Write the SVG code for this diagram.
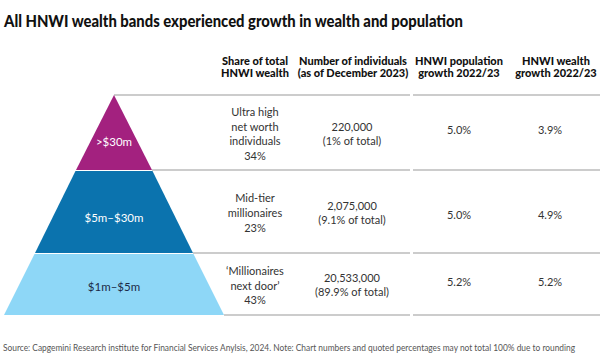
<svg xmlns="http://www.w3.org/2000/svg" width="600" height="364" viewBox="0 0 600 364">
<style>
.title{font-family:Lato,"Liberation Sans",sans-serif;font-weight:900;font-size:17px;fill:#111}
.hd{font-family:Lato,"Liberation Sans",sans-serif;font-weight:900;font-size:11px;fill:#111;text-anchor:middle}
.tx{font-family:Lato,"Liberation Sans",sans-serif;font-size:11px;fill:#333;text-anchor:middle}
.pl{font-family:Lato,"Liberation Sans",sans-serif;font-size:11.5px;text-anchor:middle}
.fn{font-family:Lato,"Liberation Sans",sans-serif;font-size:8.6px;fill:#555}
.rule{stroke:#9a9a9a;stroke-width:1.2;fill:none}
</style>
<rect width="600" height="364" fill="#fff"/>
<text class="title" x="4" y="26.5" textLength="459" lengthAdjust="spacingAndGlyphs">All HNWI wealth bands experienced growth in wealth and population</text>
<g id="header">
<text class="hd" x="255" y="65">Share of total</text>
<text class="hd" x="255" y="77">HNWI wealth</text>
<text class="hd" x="353" y="65">Number of individuals</text>
<text class="hd" x="353" y="77">(as of December 2023)</text>
<text class="hd" x="459" y="65">HNWI population</text>
<text class="hd" x="459" y="77">growth 2022/23</text>
<text class="hd" x="556" y="65">HNWI wealth</text>
<text class="hd" x="556" y="77">growth 2022/23</text>
</g>
<g id="connectors">
<path class="rule" d="M114 95H410M413 95H600M152 170H410M413 170H600M193 253H410M413 253H600M224 315H410M413 315H600"/>
</g>
<g id="band-top">
<polygon points="114,95 152,170 76,170" fill="#A3217F"/>
<text class="pl" x="114" y="146" fill="#fff">&gt;$30m</text>
</g>
<g id="band-mid">
<polygon points="75.5,171 152.5,171 193,253 35,253" fill="#0B73AE"/>
<text class="pl" x="114" y="222" fill="#fff">$5m–$30m</text>
</g>
<g id="band-bottom">
<polygon points="34.5,254 193.5,254 224,315 4,315" fill="#8ED7F7"/>
<text class="pl" x="114" y="291" fill="#1c2b48">$1m–$5m</text>
</g>
<g id="row-1">
<text class="tx" x="255" y="116">Ultra high</text>
<text class="tx" x="255" y="130.5">net worth</text>
<text class="tx" x="255" y="145">individuals</text>
<text class="tx" x="255" y="160">34%</text>
<text class="tx" x="352" y="131">220,000</text>
<text class="tx" x="352" y="145">(1% of total)</text>
<text class="tx" x="459" y="134">5.0%</text>
<text class="tx" x="550" y="134">3.9%</text>
</g>
<g id="row-2">
<text class="tx" x="255" y="202">Mid-tier</text>
<text class="tx" x="255" y="217">millionaires</text>
<text class="tx" x="255" y="232">23%</text>
<text class="tx" x="352" y="210">2,075,000</text>
<text class="tx" x="352" y="224">(9.1% of total)</text>
<text class="tx" x="459" y="219">5.0%</text>
<text class="tx" x="550" y="219">4.9%</text>
</g>
<g id="row-3">
<text class="tx" x="255" y="275">‘Millionaires</text>
<text class="tx" x="255" y="290">next door’</text>
<text class="tx" x="255" y="304">43%</text>
<text class="tx" x="352" y="282">20,533,000</text>
<text class="tx" x="352" y="296">(89.9% of total)</text>
<text class="tx" x="459" y="286">5.2%</text>
<text class="tx" x="550" y="286">5.2%</text>
</g>
<text class="fn" x="3" y="351" textLength="572" lengthAdjust="spacingAndGlyphs">Source: Capgemini Research institute for Financial Services Anylsis, 2024. Note: Chart numbers and quoted percentages may not total 100% due to rounding</text>
</svg>
